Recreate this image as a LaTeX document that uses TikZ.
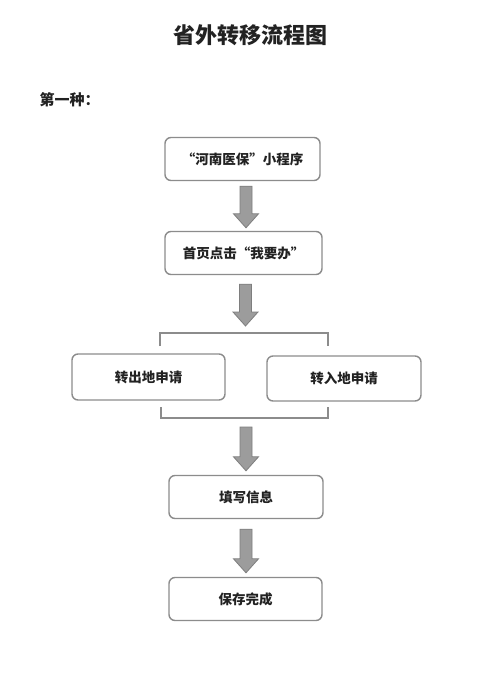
\documentclass[tikz,border=0pt]{standalone}
\usepackage{fontspec}
\setmainfont{Noto Sans CJK SC}
\usetikzlibrary{calc}
\definecolor{boxline}{HTML}{8C8C8C}
\definecolor{arrfill}{HTML}{9C9C9C}
\definecolor{arrline}{HTML}{7E7E7E}
\definecolor{txt}{HTML}{222222}
\tikzset{
  flowbox/.style={draw=boxline, line width=1.4pt, rounded corners=6pt, fill=white,
    minimum width=#1, minimum height=43pt, inner sep=0pt, text=txt,
    font=\fontsize{13.5}{16}\selectfont\bfseries},
  flowbox/.default=155pt,
  bracketline/.style={draw=boxline, line width=1.2pt},
  blockarr/.style={fill=arrfill, draw=arrline, line width=0.8pt, line join=miter},
}
\newcommand\blockarrow[2]{%
  \filldraw[blockarr] let \p1=(#1), \p2=(#2) in
    (\x1-6pt,\y1) -- (\x1+6pt,\y1) -- (\x1+6pt,\y2+14pt) -- (\x1+12.5pt,\y2+14pt)
    -- (\x1,\y2) -- (\x1-12.5pt,\y2+14pt) -- (\x1-6pt,\y2+14pt) -- cycle;}
\begin{document}
\begin{tikzpicture}[x=1pt,y=-1pt]
\useasboundingbox (0,0) rectangle (500,677);
\fill[white] (0,0) rectangle (500,677);

\node[text=txt, font=\fontsize{22}{26}\selectfont\bfseries] (title) at (250,35) {省外转移流程图};
\node[text=txt, font=\fontsize{15}{18}\selectfont\bfseries, anchor=west] (kind) at (36,100) {第一种：};

\node[flowbox] (b1) at (242.5,159) {“河南医保”小程序};
\node[flowbox=157pt] (b2) at (243.5,253) {首页点击“我要办”};
\node[flowbox=153pt, minimum height=46pt] (b3) at (148.5,377) {转出地申请};
\node[flowbox=154pt, minimum height=45pt] (b4) at (344,378.5) {转入地申请};
\node[flowbox=154pt] (b5) at (246,497) {填写信息};
\node[flowbox=153pt] (b6) at (245.5,599) {保存完成};

\coordinate (bt) at (246,333);
\coordinate (bb) at (246,418);
\draw[bracketline] (160,346) |- (328,333) -- (328,346);
\draw[bracketline] (161,407) |- (328,418) -- (328,407);

\blockarrow{$(b1.south)+(3.5,5)$}{$(b2.north)+(2.5,-3)$}
\blockarrow{$(b2.south)+(2,9)$}{$(bt)+(0,-7)$}
\blockarrow{$(bb)+(0,9)$}{$(b5.north)+(0,-4)$}
\blockarrow{$(b5.south)+(0,10)$}{$(b6.north)+(0,-4)$}
\end{tikzpicture}
\end{document}
